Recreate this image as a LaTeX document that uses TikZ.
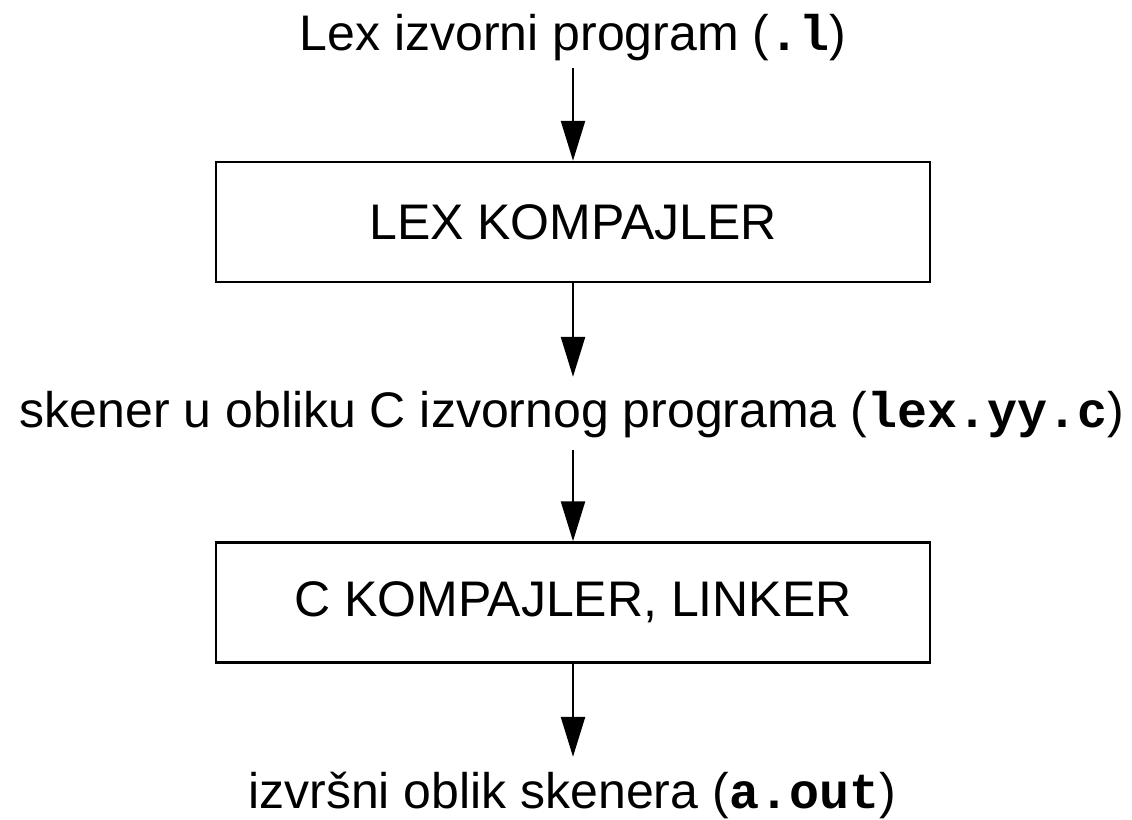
\documentclass[tikz,border=0pt]{standalone}
\usepackage{fontspec}
\setmainfont{Liberation Sans}
\newfontfamily\codefont{Liberation Mono}
\usetikzlibrary{arrows.meta}
\newcommand{\code}[1]{{\codefont\bfseries #1}}
\begin{document}
\begin{tikzpicture}[x=1pt,y=-1pt,
  every node/.style={font=\fontsize{50}{60}\selectfont},
  txt/.style={inner sep=0pt,text height=36pt,text depth=0pt,anchor=base},
  box/.style={draw,line width=2.5pt,minimum width=714pt,minimum height=120pt,inner sep=0pt},
  arr/.style={line width=2.5pt,-{Triangle[width=24pt,length=40pt]}}]
\useasboundingbox[fill=white] (0,0) rectangle (1132,819);
\node[txt] (t1) at (573,50) {Lex izvorni program (\code{.l})};
\node[box] (b1) at (573,222) {LEX KOMPAJLER};
\node[txt] (t2) at (572,427) {skener u obliku C izvornog programa (\code{lex.yy.c})};
\node[box] (b2) at (573,602.5) {C KOMPAJLER, LINKER};
\node[txt] (t3) at (572,808) {izvršni oblik skenera (\code{a.out})};
\draw[arr] ([yshift=-18pt]t1.south -| b1.north) -- (b1.north);
\draw[arr] (b1.south) -- ([yshift=14pt]t2.north -| b1.south);
\draw[arr] ([yshift=-23pt]t2.south -| b2.north) -- (b2.north);
\draw[arr] (b2.south) -- ([yshift=15pt]t3.north -| b2.south);
\end{tikzpicture}
\end{document}
